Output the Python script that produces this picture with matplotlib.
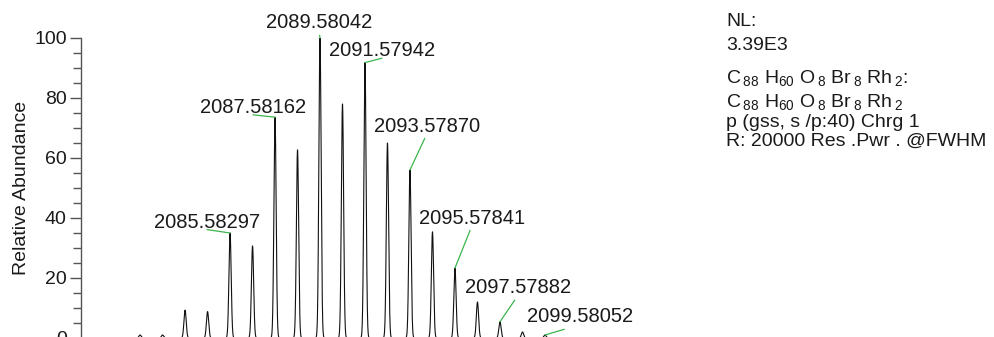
import numpy as np
import matplotlib
matplotlib.use('Agg')
import matplotlib.pyplot as plt

plt.rcParams['font.family'] = ['Liberation Sans', 'DejaVu Sans']
plt.rcParams['mathtext.fontset'] = 'custom'
plt.rcParams['mathtext.rm'] = 'Liberation Sans'
plt.rcParams['mathtext.it'] = 'Liberation Sans'

# isotope pattern (centroids)
masses = [2081.583, 2082.583, 2083.583, 2084.583, 2085.58297, 2086.582,
          2087.58162, 2088.581, 2089.58042, 2090.580, 2091.57942, 2092.579,
          2093.57870, 2094.579, 2095.57841, 2096.579, 2097.57882, 2098.580,
          2099.58052]
heights = [1.0, 1.0, 9.3, 8.8, 35.0, 30.7, 73.6, 62.7, 100.0, 78.0, 91.8, 65.0,
           56.0, 35.4, 23.3, 12.0, 5.4, 2.0, 1.0]

labelled = ['2085.58297', '2087.58162', '2089.58042', '2091.57942', '2093.57870',
            '2095.57841', '2097.57882', '2099.58052']
# label offsets from the peak top (pixels, x right / y up)
label_offsets = [(-23, 11), (-22, 10), (-1, 15), (17, 12), (17, 44),
                 (17, 50), (18, 34), (35, 18)]

info_lines = ['NL:', '3.39E3',
              r'C$\,_{88}$ H$_{60}$ O$\,_{8}$ Br$\,_{8}$ Rh$\,_{2}$:',
              r'C$\,_{88}$ H$_{60}$ O$\,_{8}$ Br$\,_{8}$ Rh$\,_{2}$',
              'p (gss, s /p:40) Chrg 1',
              'R: 20000 Res .Pwr . @FWHM']
info_y = [22, 45, 78, 102, 122, 141]

W, H = 995, 337
fig = plt.figure(figsize=(W / 100, H / 100), dpi=100)

# axes: left spine at x=80.7px, y=100 at 38px, y=0 at 338px
ppd = 22.5  # pixels per Da
x0 = 80.7
x1 = 700
xmin = masses[8] - (320 - x0) / ppd
xmax = xmin + (x1 - x0) / ppd
ax = fig.add_axes([x0 / W, (H - 338) / H, (x1 - x0) / W, 300 / H])
ax.set_xlim(xmin, xmax)
ax.set_ylim(0, 100)

# profile drawn from centroids with a narrow peak shape
mz = np.linspace(xmin, xmax, 20000)
sigma = 0.05
prof = np.zeros_like(mz)
for m, h in zip(masses, heights):
    prof += h * np.exp(-0.5 * ((mz - m) / sigma) ** 2)
ax.plot(mz, prof, color='#111111', lw=0.8)

green = '#3cb44b'
for lab, (dx, dy) in zip(labelled, label_offsets):
    i = ['%.5f' % m for m in masses].index(lab)
    ax.annotate(lab, xy=(masses[i], heights[i]), xytext=(dx * 0.72, dy * 0.72),
                textcoords='offset points', ha='center', va='center',
                fontsize=14.5, color='#1a1a1a',
                arrowprops=dict(arrowstyle='-', color=green, lw=0.9,
                                relpos=(0.5, 0.1), shrinkA=0, shrinkB=0))

for s in ['top', 'right', 'bottom']:
    ax.spines[s].set_visible(False)
ax.spines['left'].set_color('#555555')
ax.spines['left'].set_linewidth(1.0)
ax.set_xticks([])
ax.set_yticks([0, 20, 40, 60, 80, 100])
ax.set_yticks(np.arange(0, 101, 5), minor=True)
ax.tick_params(axis='y', which='major', length=8, width=1.0, color='#555555',
               labelsize=14, pad=2, labelcolor='#1a1a1a')
ax.tick_params(axis='y', which='minor', length=6, width=1.0, color='#555555')
ax.set_ylabel('Relative Abundance', fontsize=14, color='#1a1a1a', labelpad=3)

for t, y in zip(info_lines, info_y):
    fig.text(726 / W, 1 - y / H, t, fontsize=14, color='#1a1a1a',
             ha='left', va='center')

fig.savefig('out.png', dpi=100)
